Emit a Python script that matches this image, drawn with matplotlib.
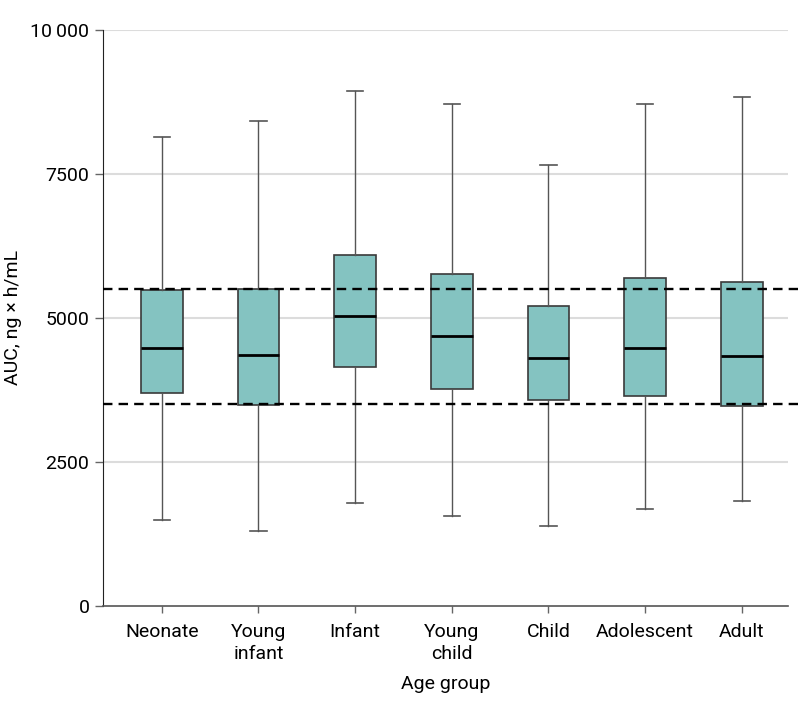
import matplotlib.pyplot as plt
from matplotlib.transforms import blended_transform_factory

plt.rcParams['font.family'] = ['Roboto', 'DejaVu Sans']

groups = ['Neonate', 'Young\ninfant', 'Infant', 'Young\nchild', 'Child', 'Adolescent', 'Adult']
whislo = [1485, 1300, 1780, 1565, 1390, 1675, 1820]
q1 = [3690, 3490, 4150, 3760, 3570, 3640, 3475]
med = [4470, 4350, 5030, 4680, 4305, 4475, 4340]
q3 = [5480, 5500, 6095, 5755, 5205, 5685, 5615]
whishi = [8130, 8415, 8930, 8715, 7655, 8715, 8835]
target_hi = 5500
target_lo = 3500

yticks = [0, 2500, 5000, 7500, 10000]
ytick_labels = ['0', '2500', '5000', '7500', '10\u2009000']

fig = plt.figure(figsize=(7.98, 7.16), dpi=100)
ax = fig.add_axes([0.1295, 0.1536, 0.858, 0.805])

stats = []
for i, g in enumerate(groups):
    stats.append(dict(label=g, whislo=whislo[i], q1=q1[i], med=med[i],
                      q3=q3[i], whishi=whishi[i], fliers=[]))

ax.bxp(stats, positions=range(len(groups)), widths=0.43, capwidths=0.17,
       showfliers=False, patch_artist=True,
       boxprops=dict(facecolor='#84c3c1', edgecolor='#3a3a3a', linewidth=1.2),
       medianprops=dict(color='black', linewidth=2),
       whiskerprops=dict(color='#555555', linewidth=1),
       capprops=dict(color='#555555', linewidth=1.2),
       zorder=3)

for y in yticks[1:]:
    ax.axhline(y, color='#dcdcdc', linewidth=1.5, zorder=1)

trans = blended_transform_factory(ax.transAxes, ax.transData)
for y in (target_hi, target_lo):
    ax.plot([0, 1.0146], [y, y], transform=trans, color='black', linewidth=1.7,
            linestyle=(0, (4, 2.6)), clip_on=False, zorder=4)

ax.set_xlim(-0.604, 6.479)
ax.set_ylim(0, 10000)
ax.set_yticks(yticks)
ax.set_yticklabels(ytick_labels)
ax.set_xticks(range(len(groups)))
ax.set_xticklabels(groups, linespacing=1.3)

for s in ('top', 'right'):
    ax.spines[s].set_visible(False)
ax.spines['left'].set_color('#222222')
ax.spines['bottom'].set_color('#555555')
ax.spines['bottom'].set_linewidth(1.2)
ax.tick_params(axis='y', length=6, width=1, color='#666666', labelsize=14, pad=4)
ax.tick_params(axis='x', length=5, width=1, color='#666666', labelsize=14, pad=7)

ax.set_ylabel('AUC, ng × h/mL', fontsize=14, labelpad=6)
ax.set_xlabel('Age group', fontsize=14, labelpad=9)

fig.savefig('out.png', dpi=100)
